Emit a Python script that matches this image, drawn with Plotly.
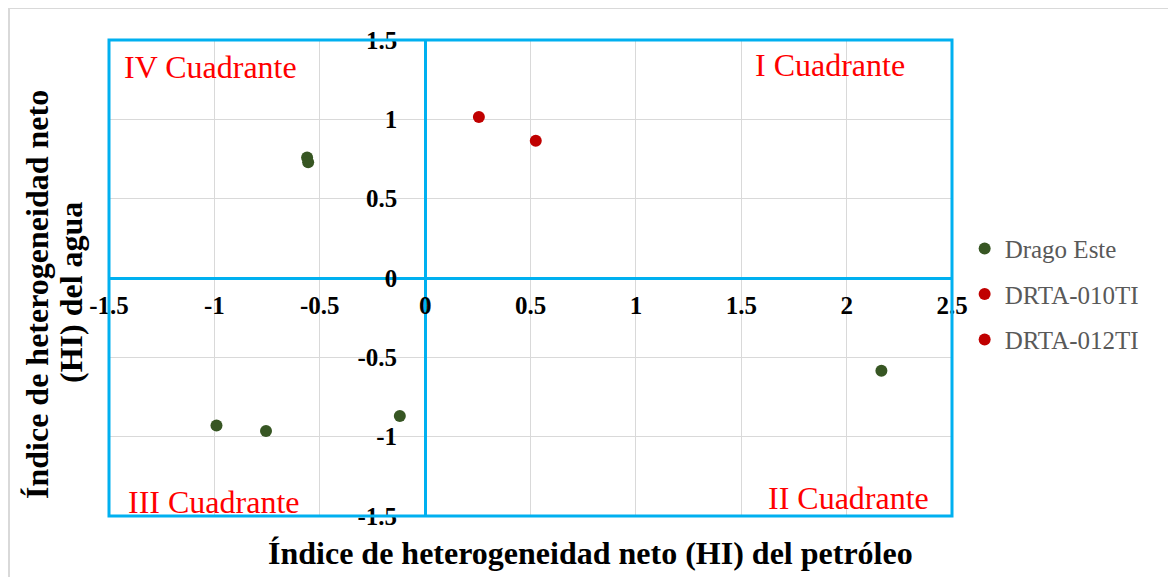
import plotly.graph_objects as go

drago_x = [-0.56, -0.555, -0.99, -0.755, -0.12, 2.165]
drago_y = [0.76, 0.73, -0.93, -0.965, -0.87, -0.585]
drta010_x = [0.255]
drta010_y = [1.015]
drta012_x = [0.525]
drta012_y = [0.865]

x_ticks = [-1.5, -1, -0.5, 0, 0.5, 1, 1.5, 2, 2.5]
y_ticks = [-1.5, -1, -0.5, 0, 0.5, 1, 1.5]
x_range = [-1.5, 2.5]
y_range = [-1.5, 1.5]

blue = "#00b0f0"
serif = "Liberation Serif"

fig = go.Figure()
fig.add_trace(go.Scatter(x=drago_x, y=drago_y, mode="markers", name="Drago Este",
                         legendgroup="a", marker=dict(color="#375623", size=12)))
fig.add_trace(go.Scatter(x=drta010_x, y=drta010_y, mode="markers", name="DRTA-010TI",
                         legendgroup="b", marker=dict(color="#c00000", size=12)))
fig.add_trace(go.Scatter(x=drta012_x, y=drta012_y, mode="markers", name="DRTA-012TI",
                         legendgroup="c", marker=dict(color="#c00000", size=12)))

# axes cross at zero, so place them "free" at the zero position
x_zero_pos = (0 - y_range[0]) / (y_range[1] - y_range[0])
y_zero_pos = (0 - x_range[0]) / (x_range[1] - x_range[0])

W, H = 1168, 569
L, R, T, B = 101, 224, 32, 61
pw, ph = W - L - R, H - T - B

fig.update_layout(
    width=W, height=H,
    paper_bgcolor="white", plot_bgcolor="white",
    margin=dict(l=L, r=R, t=T, b=B),
    font=dict(family=serif, color="black"),
    xaxis=dict(range=x_range, tickvals=x_ticks, ticktext=[f"{t:g}" for t in x_ticks],
               anchor="free", position=x_zero_pos,
               showline=True, linecolor=blue, linewidth=3,
               showgrid=True, gridcolor="#d9d9d9", gridwidth=1, zeroline=False,
               ticks="", ticklabelstandoff=4,
               tickfont=dict(family=serif, size=25, color="black", weight="bold")),
    yaxis=dict(range=y_range, tickvals=y_ticks, ticktext=[f"{t:g}" for t in y_ticks],
               anchor="free", position=y_zero_pos,
               showline=True, linecolor=blue, linewidth=3,
               showgrid=True, gridcolor="#d9d9d9", gridwidth=1, zeroline=False,
               ticks="", ticklabelstandoff=22,
               tickfont=dict(family=serif, size=25, color="black", weight="bold")),
    legend=dict(x=1.015, y=0.466, yanchor="middle", xanchor="left",
                font=dict(family=serif, size=25, color="#595959"),
                itemwidth=30, tracegroupgap=10, bgcolor="rgba(0,0,0,0)"),
    showlegend=True,
)

# plot frame and outer chart border
fig.add_shape(type="rect", xref="paper", yref="paper", x0=0, x1=1, y0=0, y1=1,
              line=dict(color=blue, width=3), layer="above")
fig.add_shape(type="rect", xref="paper", yref="paper",
              x0=-100 / pw, x1=(1166 - L) / pw, y0=-80 / ph, y1=(ph + 32) / ph,
              line=dict(color="#d9d9d9", width=2), layer="below")

quad = dict(family=serif, size=32, color="red")
fig.add_annotation(text="IV Cuadrante", xref="paper", yref="paper", x=0.015, y=0.985,
                   xanchor="left", yanchor="top", showarrow=False, font=quad)
fig.add_annotation(text="I Cuadrante", xref="paper", yref="paper", x=0.947, y=0.99,
                   xanchor="right", yanchor="top", showarrow=False, font=quad)
fig.add_annotation(text="III Cuadrante", xref="paper", yref="paper", x=0.02, y=-0.012,
                   xanchor="left", yanchor="bottom", showarrow=False, font=quad)
fig.add_annotation(text="II Cuadrante", xref="paper", yref="paper", x=0.975, y=-0.005,
                   xanchor="right", yanchor="bottom", showarrow=False, font=quad)

title_font = dict(family=serif, size=32, color="black")
fig.add_annotation(text="<b>Índice de heterogeneidad neto (HI) del petróleo</b>",
                   xref="paper", yref="paper", x=(590 - 109) / pw, y=-37 / ph,
                   xanchor="center", yanchor="middle", showarrow=False, font=title_font)
fig.add_annotation(text="<b>Índice de heterogeneidad neto</b>",
                   xref="paper", yref="paper", x=(29 - L) / pw, y=(508 - 287) / ph,
                   xanchor="center", yanchor="middle", showarrow=False, textangle=-90,
                   font=title_font)
fig.add_annotation(text="<b>(HI) del agua</b>",
                   xref="paper", yref="paper", x=(63 - L) / pw, y=(508 - 285) / ph,
                   xanchor="center", yanchor="middle", showarrow=False, textangle=-90,
                   font=title_font)

fig.write_html("out.html")
